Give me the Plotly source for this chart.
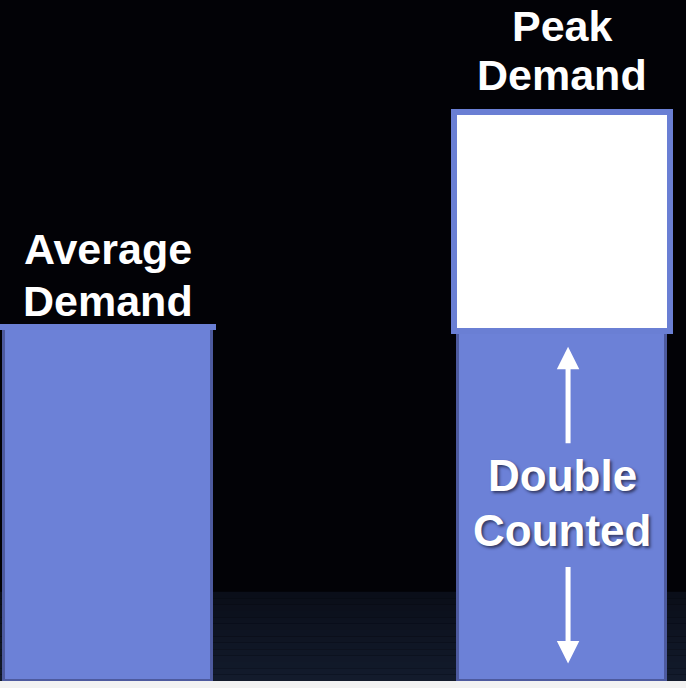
import plotly.graph_objects as go

categories = ["Average Demand", "Peak Demand"]
x_pos = [0, 1]
base_values = [100, 99]        # blue part (average demand / double counted)
peak_extra = [0, 62]           # white part on top of peak bar
label_lines = [["Average", "Demand"], ["Peak", "Demand"]]
label_shift = [0, 11]
label_line_h = [52, 49]
inner_lines = ["Double", "Counted"]

BLUE = "#6c81d7"
FONT = "Liberation Sans, Arial, sans-serif"

fig = go.Figure()

fig.add_trace(go.Bar(
    x=x_pos, y=base_values, width=0.46,
    marker=dict(color=BLUE, line=dict(color="#4d5a9e", width=3)),
    hoverinfo="skip", showlegend=False,
))
fig.add_trace(go.Bar(
    x=x_pos, y=peak_extra, width=0.475,
    marker=dict(color="white", line=dict(color="#6a7fd4", width=6)),
    hoverinfo="skip", showlegend=False,
))

totals = [b + p for b, p in zip(base_values, peak_extra)]
for xi, tot, lines, sh, lh in zip(x_pos, totals, label_lines, label_shift, label_line_h):
    for j, line in enumerate(reversed(lines)):
        fig.add_annotation(
            x=xi, y=tot, text=f"<b>{line}</b>", showarrow=False,
            yanchor="bottom", xanchor="center", yshift=sh + j * lh,
            font=dict(family=FONT, size=43, color="white"),
        )

# Double counted label and arrows inside the peak bar's blue part
b = base_values[1]
for j, line in enumerate(inner_lines):
    fig.add_annotation(
        x=1, y=b * 0.51, text=f"<b>{line}</b>", showarrow=False,
        xanchor="center", yanchor="middle", yshift=27 - j * 55,
        font=dict(family=FONT, size=44, color="white", shadow="2px 2px 3px #333a66"),
    )
fig.add_annotation(
    x=1, y=b * 0.955, ax=1, ay=b * 0.675, xref="x", yref="y", axref="x", ayref="y",
    text="", showarrow=True, arrowhead=2, arrowwidth=5, arrowsize=0.9, arrowcolor="white",
    xshift=6,
)
fig.add_annotation(
    x=1, y=b * 0.05, ax=1, ay=b * 0.33, xref="x", yref="y", axref="x", ayref="y",
    text="", showarrow=True, arrowhead=2, arrowwidth=5, arrowsize=0.9, arrowcolor="white",
    xshift=6,
)

# dark floor band (smooth vertical gradient)
n = 14
top, bot = 0.131, 0.0
c_top = (10, 14, 24)
c_bot = (19, 27, 45)
for i in range(n):
    t = (i + 0.5) / n
    col = tuple(round(c_top[k] + (c_bot[k] - c_top[k]) * t) for k in range(3))
    y1 = top - (top - bot) * i / n
    y0 = top - (top - bot) * (i + 1) / n
    fig.add_shape(type="rect", xref="paper", yref="paper", x0=0, x1=1, y0=y0, y1=y1,
                  fillcolor="rgb(%d,%d,%d)" % col, line=dict(width=0), layer="below")

fig.update_layout(
    width=686, height=688,
    margin=dict(l=0, r=0, t=0, b=7),
    paper_bgcolor="#f2f2f2",
    plot_bgcolor="#020206",
    barmode="stack",
    bargap=0,
    xaxis=dict(range=[-0.238, 1.273], visible=False, fixedrange=True),
    yaxis=dict(range=[0, 192.6], visible=False, fixedrange=True),
    showlegend=False,
)

fig.write_html("out.html")
